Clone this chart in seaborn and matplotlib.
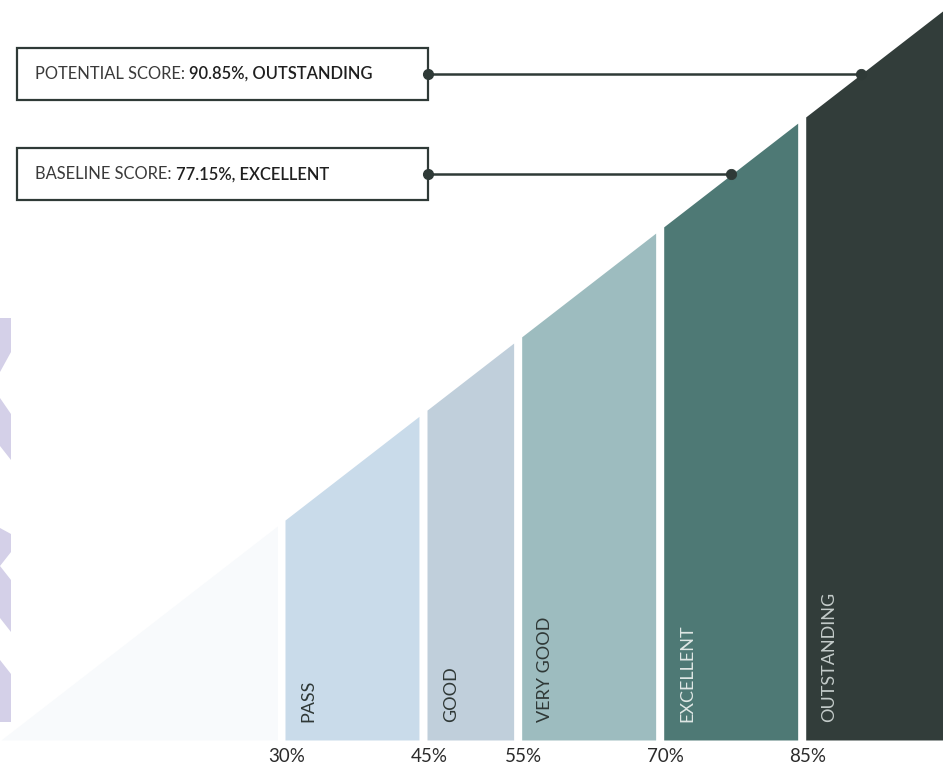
import matplotlib
matplotlib.use("Agg")
import matplotlib.pyplot as plt
from matplotlib.patches import Rectangle, Polygon
import seaborn as sns
import pandas as pd

# ---- data ----
bands = ["PASS", "GOOD", "VERY GOOD", "EXCELLENT", "OUTSTANDING"]
band_start = [30, 45, 55, 70, 85]
band_end = [45, 55, 70, 85, 100]
band_colors = ["#c9dbea", "#c0cfdb", "#9dbcbf", "#4e7975", "#323d3a"]
band_text_colors = ["#2f3836", "#2f3836", "#2f3836", "#dfe7e5", "#c3cbc9"]
tick_values = [30, 45, 55, 70, 85]
tick_labels = ["30%", "45%", "55%", "70%", "85%"]
score_names = ["POTENTIAL SCORE: ", "BASELINE SCORE: "]
score_values = [90.85, 77.15]
score_ratings = ["OUTSTANDING", "EXCELLENT"]

sns.set_theme(style="white")
plt.rcParams["font.family"] = ["Lato", "DejaVu Sans"]

W, H = 943, 774
fig = plt.figure(figsize=(W / 100, H / 100), dpi=100)
ax = fig.add_axes([0, 0, 1, 1])
ax.set_xlim(-0.1, 99.5)
ax.set_ylim(-4.64, 100.95)
ax.axis("off")

dark = "#2f3a37"
gap = 0.85

# faint unclassified area
ax.fill_between([0, 29.2], [0, 29.2], 0, color="#f8fafc", lw=0, zorder=0)

# rating bands (trapezoids under the diagonal)
for name, a, b, c, tc in zip(bands, band_start, band_end, band_colors, band_text_colors):
    e = b - gap if b < 100 else b
    ax.fill_between([a, e], [a, e], 0, color=c, lw=0, zorder=1)
    ax.text(a + 2.5, 2.45, name, rotation=90, ha="center", va="bottom",
            fontsize=13, color=tc, zorder=3)

# x labels
for v, lab in zip(tick_values, tick_labels):
    ax.text(v + 0.2, -2.3, lab, ha="center", va="center", fontsize=13.5, color="#2b2b2b")

# score call-outs
box_x0, box_x1 = 1.7, 45.1
box_h = 7.1
df = pd.DataFrame({"x": score_values, "y": score_values})
for name, val, rating in zip(score_names, score_values, score_ratings):
    ax.add_patch(Rectangle((box_x0, val - box_h / 2), box_x1 - box_x0, box_h,
                           facecolor="white", edgecolor=dark, lw=1.6, zorder=4))
    ax.plot([box_x1, val], [val, val], color=dark, lw=1.8, zorder=4)
    t1 = ax.text(3.6, val, name, ha="left", va="center", fontsize=11.9,
                 color="#3a3a3a", zorder=5)
    ax.annotate(f"{val:.2f}%, {rating}", xy=(1, 0.5), xycoords=t1,
                ha="left", va="center", fontsize=11.9, color="#1f1f1f",
                fontweight="semibold", zorder=5)
    ax.plot([box_x1], [val], "o", color=dark, ms=7, zorder=6)
sns.scatterplot(data=df, x="x", y="y", ax=ax, color=dark, s=55, zorder=6,
                edgecolor=dark, legend=False)

# decorative lavender chevrons on the left edge (pixel coords)
def px(pts):
    return [(x / W, 1 - y / H) for x, y in pts]

lav = "#d4d0e8"
shapes = [
    [(0, 318), (11, 318), (11, 352), (0, 372)],
    [(0, 398), (11, 414), (11, 460), (0, 446)],
    [(0, 528), (11, 534), (11, 552), (0, 566), (11, 580), (11, 632), (0, 618)],
    [(0, 660), (11, 674), (11, 722), (0, 722)],
]
for s in shapes:
    fig.add_artist(Polygon(px(s), closed=True, transform=fig.transFigure,
                           facecolor=lav, edgecolor="none"))

fig.savefig("out.png", dpi=100)
